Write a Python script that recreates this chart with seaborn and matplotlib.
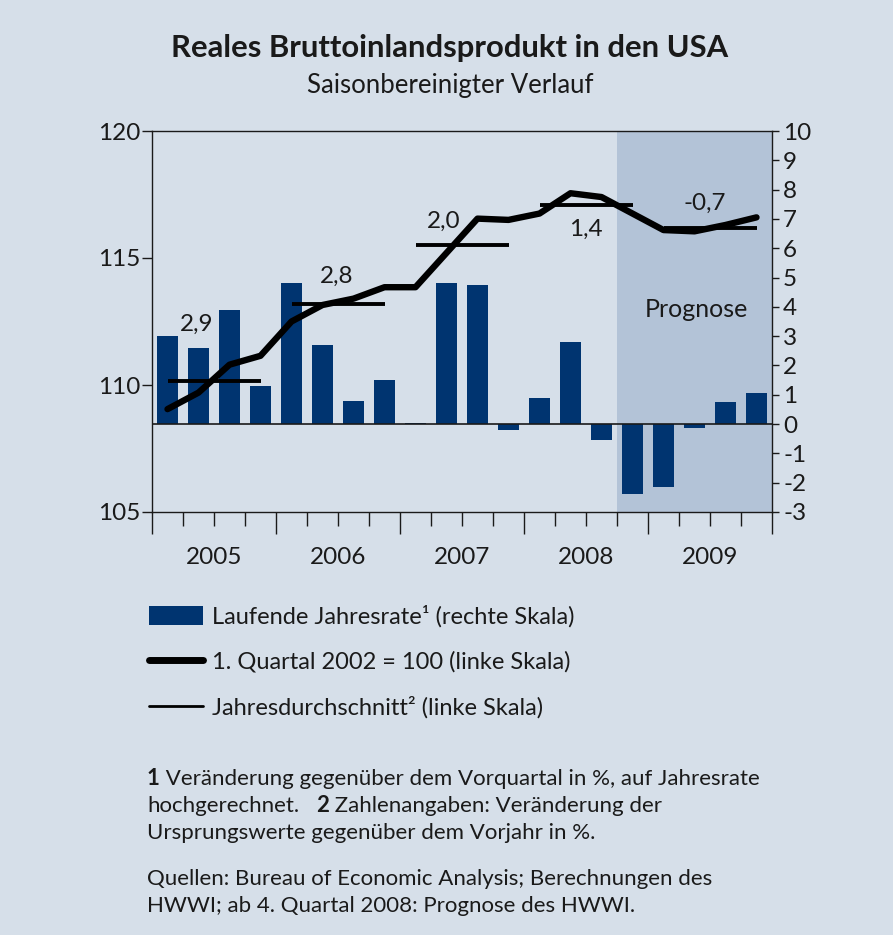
import numpy as np
import pandas as pd
import seaborn as sns
import matplotlib.pyplot as plt
from matplotlib.patches import Patch
from matplotlib.lines import Line2D

# data
years = ["2005", "2006", "2007", "2008", "2009"]
quarters = [f"{y}Q{q}" for y in years for q in range(1, 5)]
rate = [3.0, 2.6, 3.9, 1.3, 4.8, 2.7, 0.8, 1.5, 0.05, 4.8,
        4.75, -0.2, 0.9, 2.8, -0.55, -2.4, -2.15, -0.15, 0.75, 1.05]
index_level = [109.05, 109.7, 110.8, 111.15, 112.5, 113.15, 113.4, 113.85, 113.85, 115.2,
               116.55, 116.5, 116.75, 117.55, 117.4, 116.75, 116.1, 116.05, 116.3, 116.6]
annual_avg = [110.15, 113.2, 115.5, 117.1, 116.2]
annual_growth = ["2,9", "2,8", "2,0", "1,4", "-0,7"]
forecast_start = "2008Q4"

bg = "#d6dfe9"
shade = "#b3c3d7"
bar_color = "#003470"
dark = "#1a1a1a"

sns.set_style("ticks")
plt.rcParams['font.family'] = ['Lato', 'DejaVu Sans']
plt.rcParams['axes.unicode_minus'] = False

df = pd.DataFrame({"quarter": quarters, "rate": rate, "level": index_level})
df["pos"] = np.arange(len(df))

fig = plt.figure(figsize=(8.93, 9.35), dpi=100, facecolor=bg)
ax = fig.add_axes([152/893, 1-512/935, 620/893, 381/935])
ax.set_facecolor(bg)

# forecast shading
fstart = quarters.index(forecast_start) - 0.5
ax.axvspan(fstart, len(quarters) - 0.5, color=shade, lw=0, zorder=0)

sns.barplot(data=df, x="pos", y="rate", color=bar_color, saturation=1,
            width=0.7, ax=ax, zorder=2, linewidth=0, edgecolor="none")
ax.axhline(0, color=dark, lw=1.2, zorder=3)
ax.set_xlim(-0.5, len(quarters) - 0.5)
ax.set_ylim(-3, 10)
ax.set_yticks(range(-3, 11))
ax.set_xlabel("")
ax.set_ylabel("")

ax2 = ax.twinx()
sns.lineplot(data=df, x="pos", y="level", color="black", lw=4.6, ax=ax2, zorder=5)
for k, avg in enumerate(annual_avg):
    ax2.hlines(avg, 4*k, 4*k + 3, color="black", lw=2.8, zorder=4)
ax2.set_ylim(105, 120)
ax2.set_yticks([105, 110, 115, 120])
ax2.set_xlabel("")
ax2.set_ylabel("")
for s in ax2.spines.values():
    s.set_visible(False)

label_pos = [(0.94, 112.39), (5.44, 114.28), (8.9, 116.44), (13.5, 116.13), (17.34, 117.15)]
for (x, y), txt in zip(label_pos, annual_growth):
    ax2.text(x, y, txt, ha="center", va="center", fontsize=17.5, color=dark)
ax.text(17.05, 3.9, "Prognose", ha="center", va="center", fontsize=18, color=dark, zorder=6)

for s in ax.spines.values():
    s.set_visible(True)
    s.set_color(dark)
    s.set_linewidth(1)

ax.tick_params(axis="y", right=True, left=False, labelright=True, labelleft=False,
               length=5, width=1, pad=3, labelsize=17.5, colors=dark)
ax2.tick_params(axis="y", left=True, right=False, labelleft=True, labelright=False,
                length=7, width=1, pad=1, labelsize=17.5, colors=dark)

# quarter ticks, longer ticks at year boundaries
bounds = np.arange(-0.5, len(quarters), 1)
ax.set_xticks(bounds[::4])
ax.set_xticks([b for i, b in enumerate(bounds) if i % 4], minor=True)
ax.tick_params(axis="x", which="major", length=16, width=1, labelbottom=False, colors=dark)
ax.tick_params(axis="x", which="minor", length=10, width=1, colors=dark)

sec = ax.secondary_xaxis("bottom")
sec.set_xticks([4*k + 1.5 for k in range(len(years))], labels=years)
sec.tick_params(length=0, pad=25, labelsize=17.5, colors=dark)
sec.spines["bottom"].set_visible(False)

fig.text(0.503, 1-48/935, "Reales Bruttoinlandsprodukt in den USA", ha="center", va="center",
         fontsize=22.3, weight="bold", color=dark)
fig.text(0.504, 1-85/935, "Saisonbereinigter Verlauf", ha="center", va="center",
         fontsize=18.5, color=dark)

handles = [Patch(facecolor=bar_color, edgecolor="none"),
           Line2D([], [], color="black", lw=5),
           Line2D([], [], color="black", lw=2)]
labels = ["Laufende Jahresrate¹ (rechte Skala)",
          "1. Quartal 2002 = 100 (linke Skala)",
          "Jahresdurchschnitt² (linke Skala)"]
fig.legend(handles, labels, loc="upper left", bbox_to_anchor=(149/893, 1-605/935),
           frameon=False, fontsize=17, handlelength=2.3, handleheight=0.85,
           handletextpad=0.38, labelspacing=1.0, borderpad=0, borderaxespad=0,
           labelcolor=dark)

# footnotes
fs = 16
x0 = 147/893
t = fig.text(x0, 1-785/935, "1", weight="bold", fontsize=fs, color=dark, va="baseline")
ax.annotate(" Veränderung gegenüber dem Vorquartal in %, auf Jahresrate", xy=(1, 0),
            xycoords=t, va="bottom", fontsize=fs, color=dark, annotation_clip=False)
t = fig.text(x0, 1-812/935, "hochgerechnet.", fontsize=fs, color=dark, va="baseline")
t = ax.annotate("2", xy=(1, 0), xycoords=t, xytext=(12, 0), textcoords="offset points",
                va="bottom", fontsize=fs, weight="bold", color=dark, annotation_clip=False)
ax.annotate(" Zahlenangaben: Veränderung der", xy=(1, 0), xycoords=t, va="bottom",
            fontsize=fs, color=dark, annotation_clip=False)
fig.text(x0, 1-839/935, "Ursprungswerte gegenüber dem Vorjahr in %.", fontsize=fs,
         color=dark, va="baseline")
fig.text(x0, 1-885/935, "Quellen: Bureau of Economic Analysis; Berechnungen des",
         fontsize=fs, color=dark, va="baseline")
fig.text(x0, 1-912/935, "HWWI; ab 4. Quartal 2008: Prognose des HWWI.", fontsize=fs,
         color=dark, va="baseline")

fig.savefig("out.png", dpi=100, facecolor=bg)
